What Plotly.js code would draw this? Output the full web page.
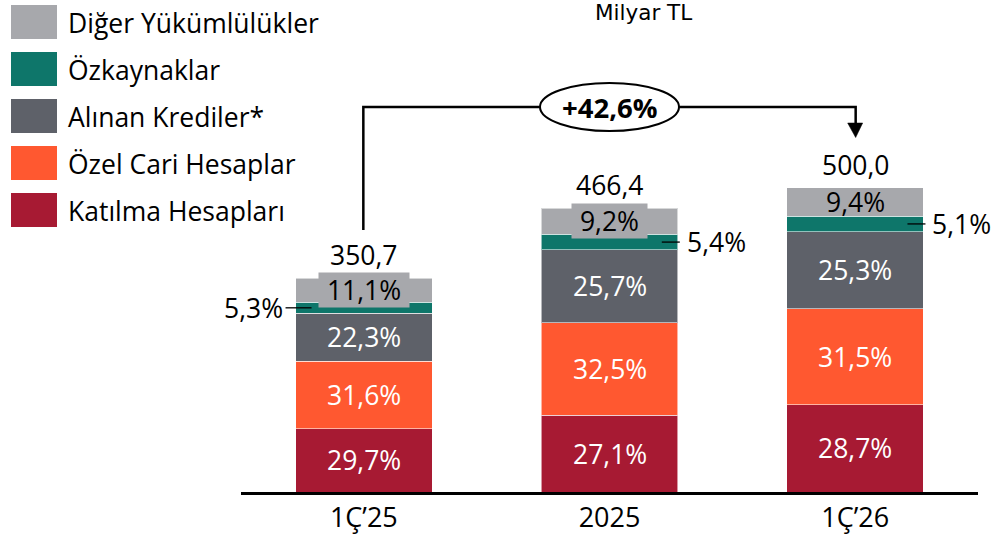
<!DOCTYPE html>
<html>
<head>
<meta charset="utf-8">
<script src="https://cdn.plot.ly/plotly-3.0.1.min.js"></script>
<style>
  html, body { margin: 0; padding: 0; background: #ffffff; }
  #chart { width: 999px; height: 539px; }
</style>
</head>
<body>
<div id="chart"></div>
<script>
// ---------- DATA ----------
const categories = ['1Ç’25', '2025', '1Ç’26'];
const totals = [350.7, 466.4, 500.0];
const seriesNames = ['Katılma Hesapları', 'Özel Cari Hesaplar', 'Alınan Krediler*', 'Özkaynaklar', 'Diğer Yükümlülükler'];
const katilmaPct = [29.7, 27.1, 28.7];
const ozelCariPct = [31.6, 32.5, 31.5];
const alinanPct = [22.3, 25.7, 25.3];
const ozkaynakPct = [5.3, 5.4, 5.1];
const digerPct = [11.1, 9.2, 9.4];
const growthLabel = '+42,6%';
const unitLabel = 'Milyar TL';

// ---------- STYLE ----------
const colors = ['#A71A33', '#FF5830', '#5E6169', '#0E766A', '#A7A8AC'];
const textColors = ['#ffffff', '#ffffff', '#ffffff', '#000000', '#000000'];
const FONT = '"Open Sans", Lato, sans-serif';
const W = 999, H = 539;
const M = { l: 241, r: 21, t: 0, b: 47 };
const plotW = W - M.l - M.r, plotH = H - M.t - M.b;
const yMax = 808;
const bargap = 0.444;
const LABEL_SIZE = 26.5;

const pctSeries = [katilmaPct, ozelCariPct, alinanPct, ozkaynakPct, digerPct];
const idx = categories.map((c, i) => i);
const fmt = v => v.toFixed(1).replace('.', ',');
const pxX = px => (px - M.l) / plotW;
const pxY = py => (M.t + plotH - py) / plotH;
const catW = plotW / categories.length;
const centerPx = i => M.l + (i + 0.5) * catW;
const halfBar = catW * (1 - bargap) / 2;
const yScale = plotH / yMax;

const canvas = document.createElement('canvas');
const ctx = canvas.getContext('2d');
function textW(t, size) { ctx.font = size + 'px "Open Sans"'; return ctx.measureText(t).width; }

// ---------- TRACES ----------
const traces = pctSeries.map((pcts, s) => ({
  type: 'bar',
  name: seriesNames[s],
  x: idx,
  y: pcts.map((p, i) => totals[i] * p / 100),
  width: 1 - bargap,
  marker: { color: colors[s], line: { color: 'rgba(255,255,255,0.55)', width: 1 } },
  hoverinfo: 'skip',
  showlegend: false
}));

const annotations = [];
const shapes = [];

idx.forEach(i => {
  let cum = 0;
  pctSeries.forEach((pcts, s) => {
    const val = totals[i] * pcts[i] / 100;
    const mid = cum + val / 2;
    const label = fmt(pcts[i]) + '%';
    if (s === 3) {
      const right = i > 0;
      const cx = centerPx(i);
      const edge = right ? cx + halfBar : cx - halfBar;
      const l0 = right ? edge - 16 : edge + 16;
      const l1 = right ? edge + 2 : edge - 10;
      shapes.push({ type: 'line', xref: 'paper', yref: 'y', x0: pxX(l0), x1: pxX(l1), y0: mid, y1: mid,
        line: { color: '#000000', width: 1.3 } });
      annotations.push({ xref: 'paper', yref: 'y', x: pxX(right ? l1 + 5 : l1 - 1), y: mid,
        xanchor: right ? 'left' : 'right', yanchor: 'middle', text: label, showarrow: false,
        font: { family: FONT, size: LABEL_SIZE, color: '#000000' } });
    } else {
      const segPx = val * yScale;
      const boxed = s === 4 && segPx < 27;
      const a = { x: i, y: mid, xref: 'x', yref: 'y', text: label, showarrow: false,
        xanchor: 'center', yanchor: 'middle',
        font: { family: FONT, size: LABEL_SIZE, color: textColors[s] } };
      if (boxed) {
        a.bgcolor = colors[s];
        a.borderpad = 0;
        a.width = Math.round(textW(label, LABEL_SIZE) + 16);
        a.height = 34;
      }
      annotations.push(a);
    }
    cum += val;
  });
  annotations.push({ x: i, y: totals[i], xref: 'x', yref: 'y', text: fmt(totals[i]), showarrow: false,
    xanchor: 'center', yanchor: 'bottom', yshift: 3,
    font: { family: FONT, size: LABEL_SIZE, color: '#000000' } });
});

// ---------- GROWTH BRACKET ----------
const xa = pxX(centerPx(0) - 0.5), xb = pxX(centerPx(2) + 0.5);
const yLow = pxY(230), yTop = pxY(107), yHead = pxY(123), yTip = pxY(137.5);
shapes.push({ type: 'path', xref: 'paper', yref: 'paper',
  path: `M ${xa},${yLow} V ${yTop} H ${xb} V ${yHead}`,
  line: { color: '#000000', width: 2.5 } });
shapes.push({ type: 'path', xref: 'paper', yref: 'paper',
  path: `M ${pxX(centerPx(2) - 7.5)},${yHead} L ${pxX(centerPx(2) + 7.5)},${yHead} L ${xb},${yTip} Z`,
  fillcolor: '#000000', line: { color: '#000000', width: 0.5 } });
shapes.push({ type: 'circle', xref: 'paper', yref: 'paper',
  x0: pxX(centerPx(1) - 69.5), x1: pxX(centerPx(1) + 69.5), y0: pxY(131), y1: pxY(83),
  fillcolor: '#ffffff', line: { color: '#000000', width: 2 } });
annotations.push({ xref: 'paper', yref: 'paper', x: pxX(centerPx(1)), y: pxY(107), text: '<b>' + growthLabel + '</b>',
  showarrow: false, xanchor: 'center', yanchor: 'middle', font: { family: FONT, size: 27.5, color: '#000000' } });

// ---------- UNIT LABEL ----------
annotations.push({ xref: 'paper', yref: 'paper', x: pxX(643), y: pxY(13), text: unitLabel, showarrow: false,
  xanchor: 'center', yanchor: 'middle', font: { family: '"DejaVu Sans", sans-serif', size: 21.5, color: '#000000' } });

// ---------- CUSTOM LEGEND ----------
const legendOrder = [4, 3, 2, 1, 0];
legendOrder.forEach((s, k) => {
  const top = 5 + k * 47;
  shapes.push({ type: 'rect', xref: 'paper', yref: 'paper', x0: pxX(11), x1: pxX(57), y0: pxY(top + 34), y1: pxY(top),
    fillcolor: colors[s], line: { width: 0 } });
  annotations.push({ xref: 'paper', yref: 'paper', x: pxX(66), y: pxY(top + 18), text: seriesNames[s], showarrow: false,
    xanchor: 'left', yanchor: 'middle', font: { family: FONT, size: 26.5, color: '#000000' } });
});

const layout = {
  width: W, height: H,
  margin: M,
  paper_bgcolor: '#ffffff', plot_bgcolor: '#ffffff',
  barmode: 'stack',
  showlegend: false,
  xaxis: { type: 'linear', range: [-0.5, categories.length - 0.5], tickmode: 'array', tickvals: idx, ticktext: categories,
    showline: true, linecolor: '#000000', linewidth: 2.5, ticks: '', showgrid: false,
    zeroline: false, tickfont: { family: FONT, size: 27, color: '#000000' }, fixedrange: true },
  yaxis: { type: 'linear', range: [0, yMax], visible: false, showgrid: false, zeroline: false, fixedrange: true },
  annotations: annotations,
  shapes: shapes
};

Plotly.newPlot('chart', traces, layout, { displayModeBar: false, staticPlot: true });
</script>
</body>
</html>
